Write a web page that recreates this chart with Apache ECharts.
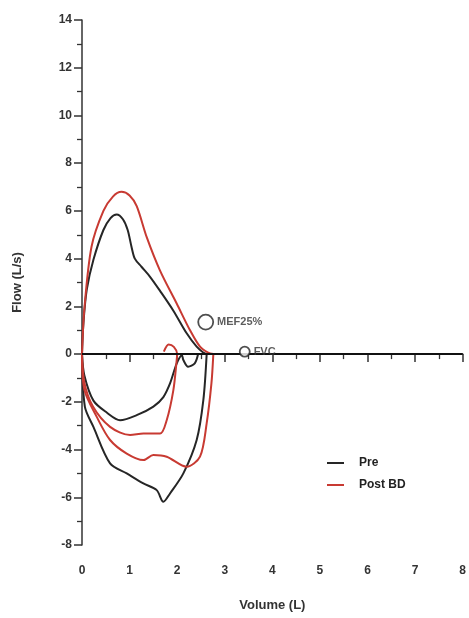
<!DOCTYPE html>
<html><head><meta charset="utf-8">
<script src="https://cdn.jsdelivr.net/npm/echarts@6/dist/echarts.min.js"></script>
<style>html,body{margin:0;padding:0;background:#fff}#c{width:469px;height:618px}</style>
</head><body><div id="c"></div>
<script>
const xTicks = [0,1,2,3,4,5,6,7,8];
const yTicks = [-8,-6,-4,-2,0,2,4,6,8,10,12,14];
const preExp = [[0,0],[0.03,1.3],[0.1,2.7],[0.24,3.95],[0.45,5.2],[0.6,5.7],[0.73,5.85],[0.86,5.65],[0.96,5.2],[1.04,4.5],[1.11,4.0],[1.25,3.66],[1.43,3.24],[1.64,2.65],[1.92,1.82],[2.2,0.87],[2.41,0.31],[2.54,0.08],[2.62,0]];
const postExp = [[0,0],[0.05,1.9],[0.2,4.5],[0.45,6.0],[0.65,6.6],[0.83,6.8],[1.0,6.65],[1.15,6.2],[1.36,4.9],[1.64,3.5],[1.99,2.12],[2.27,1.0],[2.48,0.31],[2.65,0.06],[2.76,0]];
const preInsp1 = [[0,0],[0.05,-0.9],[0.24,-1.95],[0.52,-2.45],[0.8,-2.77],[1.15,-2.56],[1.5,-2.2],[1.71,-1.8],[1.85,-1.23],[1.99,-0.4],[2.1,-0.05],[2.13,-0.25],[2.23,-0.53],[2.37,-0.39],[2.44,0]];
const preInsp2 = [[0,0],[0.06,-2.2],[0.24,-3.05],[0.59,-4.58],[0.94,-5.0],[1.29,-5.42],[1.57,-5.7],[1.71,-6.19],[1.85,-5.84],[2.13,-5.0],[2.41,-3.6],[2.55,-1.93],[2.62,0]];
const postInsp1 = [[0,0],[0.05,-1.2],[0.23,-2.2],[0.59,-3.05],[1.01,-3.39],[1.29,-3.33],[1.64,-3.33],[1.78,-2.77],[1.92,-1.51],[1.99,-0.25],[2.0,0],[1.93,0.3],[1.82,0.4],[1.72,0.1]];
const postInsp2 = [[0,0],[0.05,-1.5],[0.31,-2.63],[0.59,-3.6],[0.94,-4.17],[1.29,-4.44],[1.5,-4.23],[1.78,-4.3],[2.2,-4.72],[2.48,-4.3],[2.62,-2.9],[2.72,-1.23],[2.76,0]];
const mef25 = [2.6, 1.34];
const fvc = [3.42, 0.1];
const seriesNames = ['Pre','Post BD'];

const BLACK = '#262626', RED = '#c83a32';
const font = 'Liberation Sans Narrow, Liberation Sans, sans-serif';
function curve(name, data, color){
  return {name, type:'line', data, smooth:0.3, showSymbol:false, symbol:'none',
    lineStyle:{color, width:2}, itemStyle:{color}, z:3};
}
const chart = echarts.init(document.getElementById('c'));
chart.setOption({
  animation:false,
  grid:{left:82, right:6, top:20, bottom:73},
  xAxis:{type:'value', min:0, max:8, interval:1,
    name:'Volume (L)', nameLocation:'middle', nameGap:54,
    nameTextStyle:{fontFamily:font, fontSize:13, fontWeight:'bold', color:'#333'},
    axisLine:{show:true, lineStyle:{color:'#333', width:1.5}},
    axisTick:{show:true, length:8, lineStyle:{color:'#333', width:1.5}},
    minorTick:{show:true, splitNumber:2, length:5, lineStyle:{color:'#333', width:1.3}},
    splitLine:{show:false},
    axisLabel:{margin:20, fontFamily:font, fontSize:12, fontWeight:'bold', color:'#333',
      formatter:v=>xTicks.includes(v)?String(v):''}},
  yAxis:{type:'value', min:-8, max:14, interval:2,
    name:'Flow (L/s)', nameLocation:'middle', nameGap:58, nameRotate:90,
    nameTextStyle:{fontFamily:font, fontSize:13, fontWeight:'bold', color:'#333'},
    axisLine:{show:true, lineStyle:{color:'#333', width:1.5}},
    axisTick:{show:true, length:8, lineStyle:{color:'#333', width:1.5}},
    minorTick:{show:true, splitNumber:2, length:5, lineStyle:{color:'#333', width:1.3}},
    splitLine:{show:false},
    axisLabel:{margin:10, fontFamily:font, fontSize:12, fontWeight:'bold', color:'#333',
      formatter:v=>yTicks.includes(v)?String(v):''}},
  legend:{left:322, top:452, orient:'vertical', itemWidth:17, itemHeight:2, itemGap:10,
    icon:'rect', data:seriesNames,
    textStyle:{fontFamily:font, fontSize:12, fontWeight:'bold', color:'#222', padding:[0,0,0,10]}},
  series:[
    {name:'zero', type:'line', data:[], markLine:{silent:true, symbol:'none', label:{show:false},
      lineStyle:{color:'#111', width:2, type:'solid'}, data:[{yAxis:0}]}, z:2},
    curve('Pre', preExp, BLACK),
    curve('Pre', preInsp1, BLACK),
    curve('Pre', preInsp2, BLACK),
    curve('Post BD', postExp, RED),
    curve('Post BD', postInsp1, RED),
    curve('Post BD', postInsp2, RED),
    {name:'MEF25%', type:'scatter', data:[mef25], symbol:'circle', symbolSize:15,
      itemStyle:{color:'#fff', borderColor:'#222', borderWidth:1.8}, z:5,
      label:{show:true, position:'right', distance:3, formatter:'MEF25%', fontFamily:font, fontSize:11, fontWeight:'bold', color:'#333'}},
    {name:'FVC', type:'scatter', data:[fvc], symbol:'circle', symbolSize:10,
      itemStyle:{color:'#fff', borderColor:'#222', borderWidth:1.8}, z:5,
      label:{show:true, position:'right', distance:3, formatter:'FVC', fontFamily:font, fontSize:11, fontWeight:'bold', color:'#333'}}
  ]
});
</script></body></html>
